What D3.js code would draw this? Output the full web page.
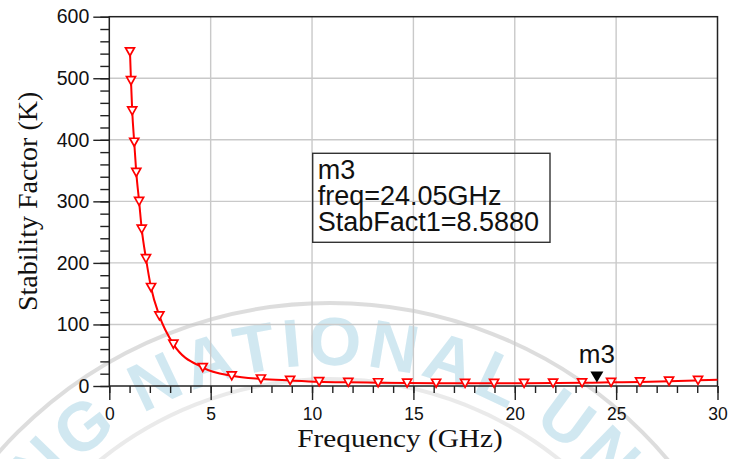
<!DOCTYPE html>
<html><head><meta charset="utf-8">
<script src="https://cdn.jsdelivr.net/npm/d3@7/dist/d3.min.js"></script>
<style>body{margin:0;background:#fff}svg{display:block}</style>
</head><body>
<svg id="c" width="731" height="459"></svg>
<script>
// ---- data ----
const freqGHz = [1.02,1.07,1.13,1.23,1.33,1.47,1.60,1.81,2.06,2.47,3.16,4.61,6.04,7.48,8.92,10.35,11.79,13.26,14.69,16.12,17.55,18.98,20.46,21.89,23.32,24.75,26.18,27.61,29.04,30.0];
const stabK   = [543,496,447,396,347,300,255,207,160,114,68,30,16.5,11.4,9.0,7.0,6.0,5.3,4.8,4.5,4.3,4.3,4.4,4.7,5.2,5.9,6.7,7.8,9.2,10.2];
const xMajorTicks = [0,5,10,15,20,25,30];
const yMajorTicks = [0,100,200,300,400,500,600];
const xMinorStep = 1;
const yMinorStep = 20;
const markerName = "m3";
const markerFreq = 24.05;
const markerLines = ["m3","freq=24.05GHz","StabFact1=8.5880"];
const xTitle = "Frequency (GHz)";
const yTitle = "Stability Factor (K)";
const watermarkText = "NG NATIONAL UNIV";

// ---- layout ----
const W=731,H=459;
const L=109.3,R=717.5,T=16.7,B=386;
const svg=d3.select("#c");
svg.append("rect").attr("width",W).attr("height",H).attr("fill","#fff");

const x=d3.scaleLinear().domain([0,30]).range([L,R]);
const y=d3.scaleLinear().domain([0,600]).range([B,T]);

// ---- watermark ----
const wm=svg.append("g");
const cx=330,cy=745,rb=380;
wm.append("circle").attr("cx",cx).attr("cy",cy).attr("r",442).attr("fill","none").attr("stroke","#d4d4d4").attr("stroke-width",4).attr("opacity",0.8);
wm.append("circle").attr("cx",cx).attr("cy",cy).attr("r",366).attr("fill","none").attr("stroke","#dcdcdc").attr("stroke-width",4).attr("opacity",0.6);
wm.append("path").attr("id","wmarc").attr("fill","none")
  .attr("d",`M${cx-rb},${cy} A${rb},${rb} 0 0 1 ${cx+rb},${cy}`);
wm.append("text").attr("font-family","Liberation Sans, Arial, sans-serif").attr("font-weight","bold")
  .attr("font-size",68).attr("letter-spacing",5).attr("fill","#c2e1ed").attr("opacity",0.75)
  .append("textPath").attr("href","#wmarc").attr("startOffset",(40*Math.PI/180)*rb).text(watermarkText);

// ---- grid ----
const grid=svg.append("g").attr("stroke","#c9c9c9").attr("stroke-width",1.4);
grid.selectAll(".gx").data(xMajorTicks.filter(d=>d>0&&d<30)).join("line")
  .attr("x1",d=>x(d)).attr("x2",d=>x(d)).attr("y1",T).attr("y2",B);
grid.selectAll(".gy").data(yMajorTicks.filter(d=>d>0&&d<600)).join("line")
  .attr("x1",L).attr("x2",R).attr("y1",d=>y(d)).attr("y2",d=>y(d));

// ---- axes ----
const tickColor="#222";
const yAx=svg.append("g").attr("transform",`translate(${L},0)`)
  .call(d3.axisLeft(y).tickValues(yMajorTicks).tickSize(16).tickPadding(4).tickSizeOuter(0));
const yMin=svg.append("g").attr("transform",`translate(${L},0)`)
  .call(d3.axisLeft(y).tickValues(d3.range(0,601,yMinorStep)).tickSize(9).tickFormat("").tickSizeOuter(0));
const xAx=svg.append("g").attr("transform",`translate(0,${B})`)
  .call(d3.axisBottom(x).tickValues(xMajorTicks).tickSize(14).tickPadding(8).tickSizeOuter(0));
const xMin=svg.append("g").attr("transform",`translate(0,${B})`)
  .call(d3.axisBottom(x).tickValues(d3.range(0,30.01,xMinorStep)).tickSize(7).tickFormat("").tickSizeOuter(0));
[yAx,yMin,xAx,xMin].forEach(g=>{g.select(".domain").remove();g.selectAll("line").attr("stroke",tickColor).attr("stroke-width",1.4);});
yAx.selectAll("text").attr("font-family","Liberation Sans, Arial, sans-serif").attr("font-size",19.5).attr("fill","#111");
xAx.selectAll("text").attr("font-family","Liberation Sans, Arial, sans-serif").attr("font-size",17.5).attr("fill","#111");

// frame
svg.append("rect").attr("x",L).attr("y",T).attr("width",R-L).attr("height",B-T)
  .attr("fill","none").attr("stroke","#222").attr("stroke-width",1.5);

// ---- trace ----
const pts=freqGHz.map((f,i)=>[f,stabK[i]]);
svg.append("path").datum(pts).attr("fill","none").attr("stroke","#ff0000").attr("stroke-width",2)
  .attr("d",d3.line().x(d=>x(d[0])).y(d=>y(d[1])).curve(d3.curveMonotoneX));
const tri=(w,h)=>`M${-w/2},${-h/2}L${w/2},${-h/2}L0,${h/2}Z`;
svg.append("g").selectAll("path").data(pts.slice(0,-1)).join("path")
  .attr("transform",d=>`translate(${x(d[0])},${y(d[1])})`)
  .attr("d",tri(9,8)).attr("fill","#fff").attr("stroke","#ff0000").attr("stroke-width",1.7);

// ---- marker m3 ----
const i1=d3.bisectLeft(freqGHz,markerFreq);
const t=(markerFreq-freqGHz[i1-1])/(freqGHz[i1]-freqGHz[i1-1]);
const mk=stabK[i1-1]+t*(stabK[i1]-stabK[i1-1]);
const mx=x(markerFreq),my=y(mk);
svg.append("path").attr("d",`M${mx-6.5},${my-11}L${mx+6.5},${my-11}L${mx},${my}Z`).attr("fill","#000");
svg.append("text").attr("x",mx).attr("y",my-20).attr("text-anchor","middle")
  .attr("font-family","Liberation Sans, Arial, sans-serif").attr("font-size",26).attr("fill","#111").text(markerName);

// ---- marker readout box ----
const bx=312.7,by=153.3,bw=237.3,bh=89;
svg.append("rect").attr("x",bx).attr("y",by).attr("width",bw).attr("height",bh)
  .attr("fill","none").attr("stroke","#333").attr("stroke-width",1.4);
svg.append("g").selectAll("text").data(markerLines).join("text")
  .attr("x",bx+5).attr("y",(d,i)=>by+26+i*26)
  .attr("font-family","Liberation Sans, Arial, sans-serif").attr("font-size",27).attr("fill","#111").text(d=>d);

// ---- titles ----
svg.append("text").attr("transform",`translate(400,447) scale(1.17,1)`).attr("text-anchor","middle")
  .attr("font-family","Liberation Serif, Times New Roman, serif").attr("font-size",25).attr("fill","#111").text(xTitle);
svg.append("text").attr("transform",`translate(37,${(T+B)/2}) rotate(-90)`).attr("text-anchor","middle")
  .attr("font-family","Liberation Serif, Times New Roman, serif").attr("font-size",28).attr("fill","#111").text(yTitle);
</script>
</body></html>
